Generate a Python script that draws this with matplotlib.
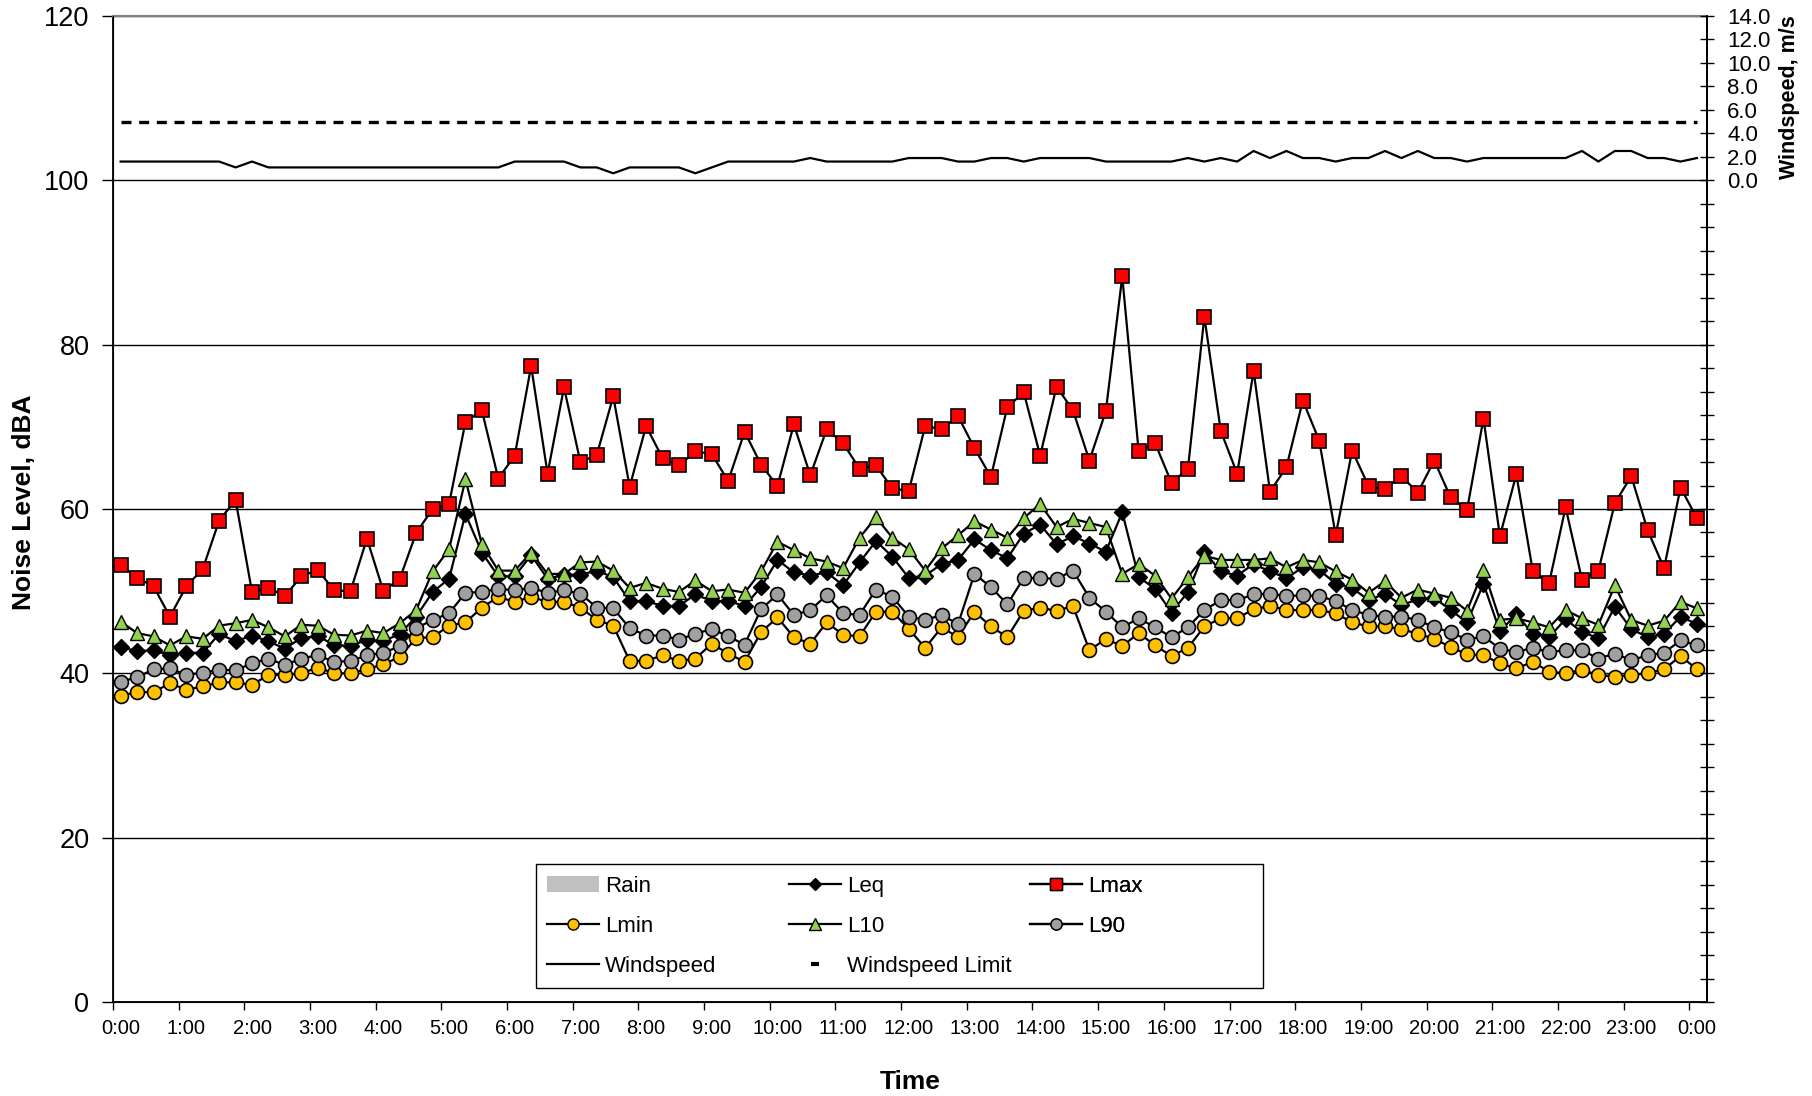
import numpy as np
import matplotlib
matplotlib.use("Agg")
import matplotlib.pyplot as plt
from matplotlib.lines import Line2D
from matplotlib.patches import Patch, Rectangle

plt.rcParams['font.family'] = ['Liberation Sans', 'DejaVu Sans']

# 15 minute intervals, first reading at 0:07
start_min = 7
step_min = 15

lmax = [53.2, 51.6, 50.6, 46.9, 50.6, 52.7, 58.6, 61.1, 49.9, 50.4,
        49.4, 51.8, 52.6, 50.1, 50.0, 56.4, 50.0, 51.5, 57.1, 60.0,
        60.6, 70.6, 72.0, 63.7, 66.5, 77.4, 64.3, 74.8, 65.7, 66.6,
        73.7, 62.7, 70.1, 66.2, 65.3, 67.0, 66.7, 63.4, 69.4, 65.4,
        62.8, 70.3, 64.1, 69.7, 68.0, 64.9, 65.3, 62.5, 62.2, 70.1,
        69.7, 71.3, 67.4, 63.9, 72.4, 74.2, 66.5, 74.9, 72.0, 65.9,
        71.9, 88.3, 67.0, 68.0, 63.2, 64.9, 83.4, 69.5, 64.3, 76.8,
        62.1, 65.1, 73.2, 68.3, 56.8, 67.1, 62.8, 62.4, 64.0, 62.0,
        65.9, 61.4, 59.9, 71.0, 56.7, 64.2, 52.5, 51.0, 60.2, 51.4,
        52.5, 60.7, 64.0, 57.4, 52.8, 62.6, 58.9]

leq = [43.2, 42.7, 42.8, 42.2, 42.5, 42.5, 44.8, 43.9, 44.6, 43.9,
       43.0, 44.3, 44.5, 43.5, 43.3, 44.1, 43.9, 44.8, 46.9, 49.9,
       51.5, 59.4, 54.7, 51.8, 51.8,
       54.4, 51.5, 52.0, 52.0, 52.5, 51.7, 48.8, 48.8, 48.2, 48.2,
       49.6, 48.8, 48.8, 48.2, 50.5, 53.8, 52.3, 51.9, 52.3, 50.7,
       53.5, 56.1, 54.2, 51.6,
       51.9, 53.3, 53.8, 56.3, 55.0, 54.0, 57.0, 58.1, 55.7, 56.7,
       55.8, 54.8, 59.6, 51.7, 50.3, 47.4, 49.9, 54.8, 52.4, 51.9,
       53.3, 52.4, 51.6, 52.9, 52.6,
       50.9, 50.4, 48.9, 49.7, 48.3, 49.0, 49.2, 47.7, 46.2, 50.9,
       45.1, 47.2, 44.8, 44.4, 46.6, 45.0, 44.3, 48.1, 45.4, 44.4,
       44.8, 46.9, 46.0]

l10 = [46.3, 44.9, 44.5, 43.4, 44.5, 44.2, 45.8, 46.1, 46.5, 45.6,
       44.5, 45.9, 45.8, 44.7, 44.6, 45.2, 44.9, 46.1, 47.7, 52.4,
       55.1, 63.6, 55.7, 52.5, 52.5,
       54.7, 52.1, 52.1, 53.5, 53.6, 52.5, 50.4, 51.0, 50.3, 49.9,
       51.3, 50.0, 50.2, 49.8, 52.4, 56.0, 55.0, 54.0, 53.6, 52.8,
       56.5, 59.0, 56.5, 55.1,
       52.5, 55.2, 56.8, 58.5, 57.5, 56.5, 58.9, 60.6, 57.8, 58.8,
       58.3, 57.8, 52.1, 53.3, 51.9, 49.1, 51.7, 54.3, 53.8, 53.8,
       53.8, 54.0, 52.9, 53.8, 53.5,
       52.4, 51.4, 49.8, 51.2, 49.2, 50.2, 49.7, 49.2, 47.6, 52.6,
       46.5, 46.7, 46.2, 45.6, 47.7, 46.7, 45.9, 50.7, 46.5, 45.8,
       46.4, 48.7, 47.9]

l90 = [39.0, 39.5, 40.5, 40.6, 39.8, 40.1, 40.4, 40.4, 41.2, 41.8,
       41.0, 41.8, 42.2, 41.4, 41.5, 42.2, 42.5, 43.3, 45.5, 46.5,
       47.3, 49.8, 49.9, 50.3, 50.1,
       50.4, 49.8, 50.1, 49.7, 48.0, 47.9, 45.5, 44.6, 44.6, 44.1,
       44.8, 45.4, 44.5, 43.5, 47.8, 49.6, 47.1, 47.7, 49.5, 47.3,
       47.1, 50.2, 49.3, 46.9,
       46.5, 47.1, 46.0, 52.1, 50.5, 48.4, 51.6, 51.6, 51.5, 52.5,
       49.2, 47.5, 45.6, 46.7, 45.6, 44.4, 45.6, 47.7, 48.9, 48.9,
       49.6, 49.7, 49.4, 49.5, 49.4,
       48.8, 47.7, 47.1, 46.9, 46.9, 46.5, 45.6, 45.0, 44.1, 44.5,
       43.0, 42.6, 43.1, 42.6, 42.8, 42.8, 41.8, 42.4, 41.6, 42.2,
       42.5, 44.0, 43.4]

lmin = [37.3, 37.7, 37.7, 38.8, 38.0, 38.4, 38.9, 38.9, 38.6, 39.8,
        39.8, 40.0, 40.7, 40.0, 40.0, 40.5, 41.1, 42.0, 44.3, 44.4,
        45.8, 46.2, 48.0, 49.3, 48.7,
        49.3, 48.7, 48.7, 48.0, 46.5, 45.8, 41.5, 41.5, 42.2, 41.5,
        41.8, 43.6, 42.4, 41.4, 45.0, 46.8, 44.4, 43.6, 46.2, 44.7,
        44.5, 47.5, 47.5, 45.4,
        43.1, 45.6, 44.4, 47.5, 45.7, 44.4, 47.6, 48.0, 47.6, 48.2,
        42.8, 44.2, 43.3, 44.9, 43.4, 42.1, 43.1, 45.7, 46.7, 46.7,
        47.8, 48.2, 47.7, 47.7, 47.7,
        47.3, 46.2, 45.7, 45.7, 45.4, 44.8, 44.2, 43.2, 42.3, 42.2,
        41.2, 40.6, 41.4, 40.2, 40.0, 40.4, 39.8, 39.6, 39.8, 40.0,
        40.5, 42.1, 40.5]

windspeed = [1.6, 1.6, 1.6, 1.6, 1.6, 1.6, 1.6, 1.1, 1.6, 1.1,
             1.1, 1.1, 1.1, 1.1, 1.1, 1.1, 1.1, 1.1, 1.1, 1.1,
             1.1, 1.1, 1.1, 1.1, 1.6, 1.6, 1.6, 1.6, 1.1, 1.1,
             0.6, 1.1, 1.1, 1.1, 1.1, 0.6, 1.1, 1.6, 1.6, 1.6,
             1.6, 1.6, 1.9, 1.6, 1.6, 1.6, 1.6, 1.6, 1.9, 1.9,
             1.9, 1.6, 1.6, 1.9, 1.9, 1.6, 1.9, 1.9, 1.9, 1.9,
             1.6, 1.6, 1.6, 1.6, 1.6, 1.9, 1.6, 1.9, 1.6, 2.5,
             1.9, 2.5, 1.9, 1.9, 1.6, 1.9, 1.9, 2.5, 1.9, 2.5,
             1.9, 1.9, 1.6, 1.9, 1.9, 1.9, 1.9, 1.9, 1.9, 2.5,
             1.6, 2.5, 2.5, 1.9, 1.9, 1.6, 1.9]

windspeed_limit = 5.0

hour_labels = ['%d:00' % (h % 24) for h in range(25)]

t = (start_min + step_min * np.arange(len(lmax))) / 60.0

W, H = 1812, 1096
fig = plt.figure(figsize=(W / 100, H / 100), dpi=100)
ax = fig.add_axes([113 / W, 1 - 1002 / H, 1594 / W, 986 / H])

lw = 1.6
ax.plot(t, leq, color='black', lw=lw, marker='D', ms=8, mfc='black', mec='black', zorder=3)
ax.plot(t, lmax, color='black', lw=lw, marker='s', ms=10.5, mfc='#FF0000', mec='black', mew=1.2, zorder=3)
ax.plot(t, lmin, color='black', lw=lw, marker='o', ms=10, mfc='#FFC000', mec='black', mew=1.2, zorder=3)
ax.plot(t, l10, color='black', lw=lw, marker='^', ms=10.5, mfc='#92D050', mec='black', mew=1.0, zorder=3)
ax.plot(t, l90, color='black', lw=lw, marker='o', ms=10, mfc='#A0A0A0', mec='black', mew=1.2, zorder=3)

ax.set_xlim(0, 24.27)
ax.set_ylim(0, 120)
ax.set_yticks(np.arange(0, 121, 20))
# tick marks on the hour, labels sit under the readings (7 min later)
ax.set_xticks(np.arange(25))
ax.set_xticklabels([])
ax.set_xticks(np.arange(25) + start_min / 60.0, minor=True)
ax.set_xticklabels(hour_labels, minor=True)
ax.yaxis.grid(True, color='black', lw=1.0)
ax.set_axisbelow(True)
ax.tick_params(axis='y', direction='out', length=8, width=1, labelsize=19.5, pad=9)
ax.tick_params(axis='x', which='major', direction='out', length=6, width=1)
ax.tick_params(axis='x', which='minor', length=0, labelsize=14.5, pad=12)
for s in ['left', 'bottom', 'right']:
    ax.spines[s].set_linewidth(1.3)
ax.spines['top'].set_color('#808080')
ax.spines['top'].set_linewidth(1.5)

# secondary axis for windspeed, only the top band 0-14 is labelled
ax2 = ax.twinx()
ax2.set_ylim(-70, 14)
ax2.plot(t, windspeed, color='black', lw=1.6, zorder=3)
ax2.plot([t[0], t[-1]], [windspeed_limit, windspeed_limit], color='black', lw=2.4,
         dashes=(3, 2.3), zorder=3)
rticks = np.arange(-70, 15, 2)
ax2.set_yticks(rticks)
ax2.set_yticklabels(['%.1f' % v if v >= 0 else '' for v in rticks])
ax2.tick_params(axis='y', direction='inout', length=10, width=1, labelsize=16, pad=9.5)
ax2.spines['right'].set_linewidth(1.3)
ax2.spines['top'].set_visible(False)

fig.text(24 / W, 1 - 502 / H, 'Noise Level, dBA', rotation=90, ha='center', va='center',
         fontsize=19, fontweight='bold')
fig.text(910 / W, 1 - 1082 / H, 'Time', ha='center', va='center',
         fontsize=19, fontweight='bold')
fig.text(1789 / W, 1 - 97 / H, 'Windspeed, m/s', rotation=90, ha='center', va='center',
         fontsize=15.5, fontweight='bold')

# legend: box drawn separately, three columns placed like Excel does
ax2.add_patch(Rectangle((536 / W, 1 - 988 / H), 727 / W, 124 / H, transform=fig.transFigure,
                        facecolor='white', edgecolor='black', lw=1.0, zorder=4, clip_on=False))

h_rain = Patch(facecolor='#C0C0C0', edgecolor='none')
h_leq = Line2D([], [], color='black', lw=lw, marker='D', ms=6, mfc='black', mec='black')
h_lmax = Line2D([], [], color='black', lw=lw, marker='s', ms=8, mfc='#FF0000', mec='black')
h_lmin = Line2D([], [], color='black', lw=lw, marker='o', ms=8, mfc='#FFC000', mec='black')
h_l10 = Line2D([], [], color='black', lw=lw, marker='^', ms=8, mfc='#92D050', mec='black')
h_l90 = Line2D([], [], color='black', lw=lw, marker='o', ms=8, mfc='#A0A0A0', mec='black')
h_ws = Line2D([], [], color='black', lw=1.6)
h_wsl = Line2D([], [], color='black', ls='none', marker='_', ms=6, mew=3)

columns = [([h_rain, h_lmin, h_ws], ['Rain', 'Lmin', 'Windspeed'], 547),
           ([h_leq, h_l10, h_wsl], ['Leq', 'L10', 'Windspeed Limit'], 789),
           ([h_lmax, h_l90], ['Lmax', 'L90'], 1030)]
for hs, ls, x0 in columns:
    leg = ax2.legend(hs, ls, loc='upper left', bbox_to_anchor=(x0 / W, 1 - 876 / H),
                     bbox_transform=fig.transFigure, fontsize=16, frameon=False,
                     handlelength=2.35, handletextpad=0.25, labelspacing=0.86,
                     borderpad=0, borderaxespad=0)
    leg.set_zorder(6)
    ax2.add_artist(leg)

fig.savefig('out.png', dpi=100)
